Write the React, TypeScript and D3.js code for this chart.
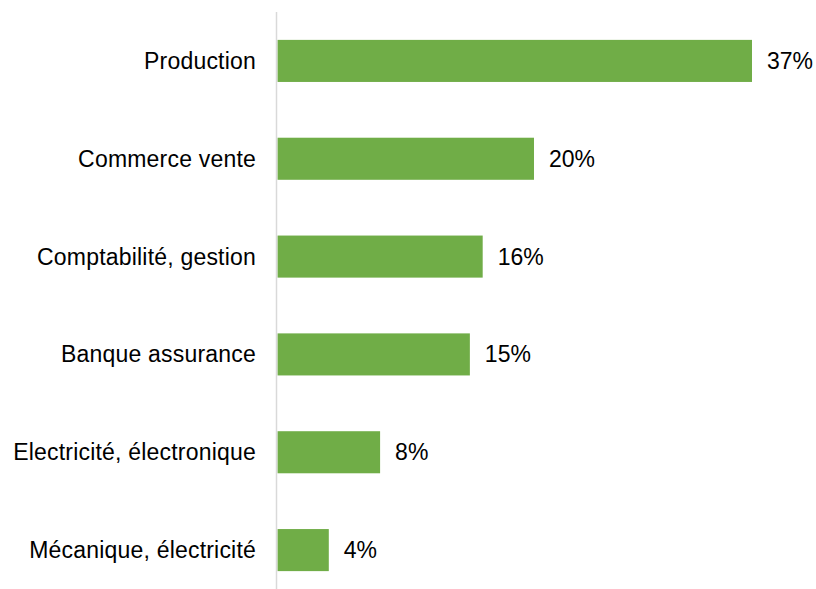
import React, { useEffect, useRef } from 'react';
import * as d3 from 'd3';

const categories = [
  'Production',
  'Commerce vente',
  'Comptabilité, gestion',
  'Banque assurance',
  'Electricité, électronique',
  'Mécanique, électricité',
];
const values = [37, 20, 16, 15, 8, 4];

const App: React.FC = () => {
  const svgRef = useRef<SVGSVGElement>(null);

  useEffect(() => {
    if (!svgRef.current) return;
    const svg = d3.select(svgRef.current);
    svg.selectAll('*').remove();

    const width = 816;
    const height = 589;
    const x0 = 277.5;

    const x = d3.scaleLinear().domain([0, 37]).range([x0, 752]);
    const y = d3.scaleBand<string>()
      .domain(categories)
      .range([12, 599])
      .paddingInner(0.57)
      .paddingOuter(0.285);

    svg.append('rect').attr('width', width).attr('height', height).attr('fill', '#ffffff');

    const font = '"Liberation Sans", Arial, sans-serif';

    // bars
    svg.append('g')
      .selectAll('rect')
      .data(categories)
      .join('rect')
      .attr('x', x0)
      .attr('y', d => y(d)!)
      .attr('width', (d, i) => x(values[i]) - x0)
      .attr('height', y.bandwidth())
      .attr('fill', '#70ad47');

    // category axis line
    svg.append('line')
      .attr('x1', 276.5).attr('x2', 276.5)
      .attr('y1', 12).attr('y2', 599)
      .attr('stroke', '#d9d9d9').attr('stroke-width', 1.5);

    // category labels
    svg.append('g')
      .selectAll('text')
      .data(categories)
      .join('text')
      .attr('x', 256)
      .attr('y', d => y(d)! + y.bandwidth() / 2)
      .attr('dy', '0.35em')
      .attr('text-anchor', 'end')
      .attr('fill', '#000000')
      .style('font-family', font)
      .style('font-size', '23px')
      .style('letter-spacing', '0.2px')
      .text(d => d);

    // value labels
    svg.append('g')
      .selectAll('text')
      .data(categories)
      .join('text')
      .attr('x', (d, i) => x(values[i]) + 15)
      .attr('y', d => y(d)! + y.bandwidth() / 2)
      .attr('dy', '0.35em')
      .attr('fill', '#000000')
      .style('font-family', font)
      .style('font-size', '23px')
      .text((d, i) => `${values[i]}%`);
  }, []);

  return (
    <svg
      ref={svgRef}
      width={816}
      height={589}
      style={{ position: 'absolute', left: 0, top: 0, display: 'block' }}
    />
  );
};

export default App;
